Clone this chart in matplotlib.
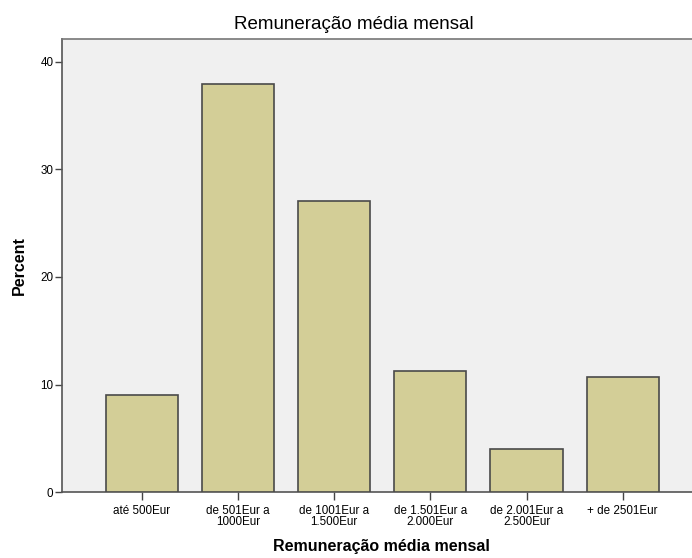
import matplotlib
matplotlib.use("Agg")
import matplotlib.pyplot as plt

categories = ["até 500Eur", "de 501Eur a\n1000Eur", "de 1001Eur a\n1.500Eur",
              "de 1.501Eur a\n2.000Eur", "de 2.001Eur a\n2.500Eur", "+ de 2501Eur"]
percent = [9.0, 37.9, 27.1, 11.3, 4.0, 10.7]
yticks = [0, 10, 20, 30, 40]
title = "Remuneração média mensal"
xlabel = "Remuneração média mensal"
ylabel = "Percent"

plt.rcParams['font.family'] = ['Liberation Sans', 'DejaVu Sans']

fig = plt.figure(figsize=(6.92, 5.58), dpi=100)
fig.patch.set_facecolor("white")
ax = fig.add_axes([0.0892, 0.1177, 0.9108, 0.8123])
ax.set_facecolor("#F0F0F0")

x = list(range(len(categories)))
ax.bar(x, percent, width=0.75, color="#D3CE97", edgecolor="#4A4A4A", linewidth=1.2, zorder=3)

ax.set_xlim(-0.832, 5.72)
ax.set_ylim(0, 42.1)
ax.set_yticks(yticks)
ax.set_xticks(x)
ax.set_xticklabels(categories, fontsize=8.4, linespacing=0.9)
ax.tick_params(axis='y', labelsize=8.4, length=5, width=1, color="#444444", pad=1)
ax.tick_params(axis='x', length=6, width=1, color="#444444", pad=3)

ax.spines["right"].set_visible(False)
for s in ["left", "bottom", "top"]:
    ax.spines[s].set_color("#555555")
    ax.spines[s].set_linewidth(1.2)
ax.spines["top"].set_color("#777777")

fig.text(353.5 / 692, 1 - 24.5 / 558, title, fontsize=13.5, ha="center", va="center")
fig.text(381.5 / 692, 1 - 547 / 558, xlabel, fontsize=11.5, fontweight="bold",
         ha="center", va="center")
fig.text(19 / 692, 1 - 265.5 / 558, ylabel, fontsize=11.5, fontweight="bold",
         ha="center", va="center", rotation=90)

fig.savefig("out.png", dpi=100)
